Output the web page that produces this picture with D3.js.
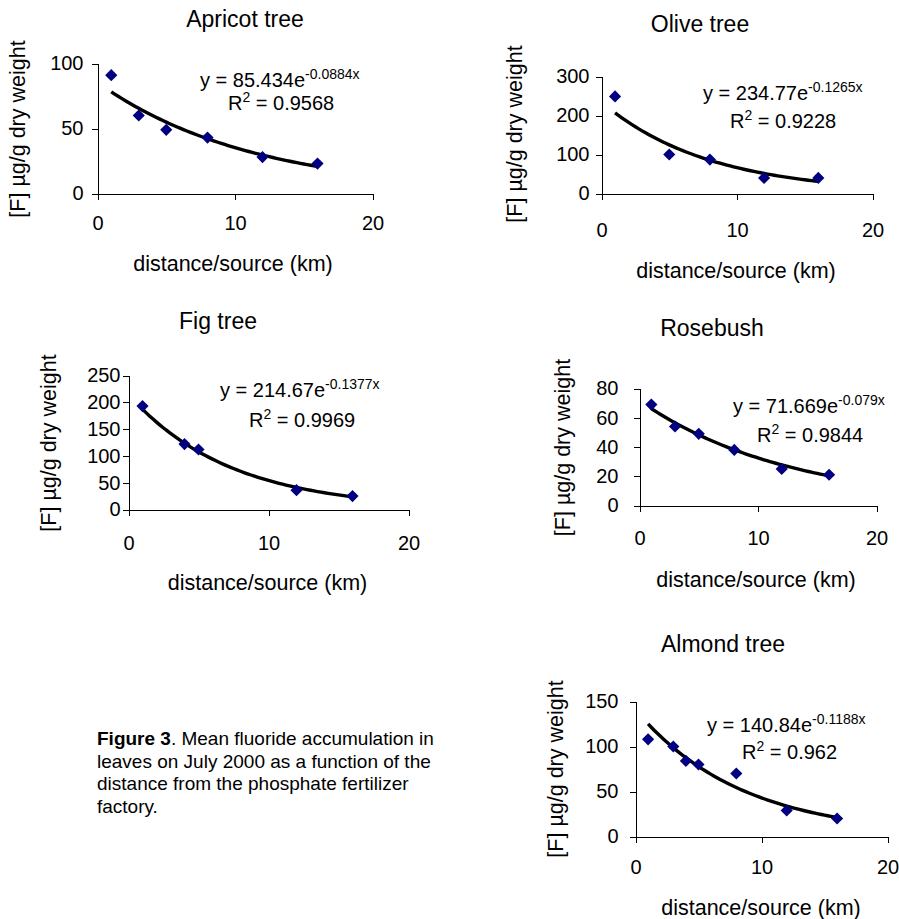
<!DOCTYPE html>
<html>
<head>
<meta charset="utf-8">
<script src="https://cdn.jsdelivr.net/npm/d3@7"></script>
<style>
  body { margin: 0; background: #fff; }
  svg text { font-family: "Liberation Sans", Arial, sans-serif; fill: #000; }
</style>
</head>
<body>
<div id="figure"></div>
<script>
// data
var panelNames = ["Apricot tree", "Olive tree", "Fig tree", "Rosebush", "Almond tree"];

var apricotX = [1, 3, 5, 8, 12, 16];
var apricotY = [91, 60, 49, 43, 28, 23];
var oliveX = [1, 5, 8, 12, 16];
var oliveY = [249, 100, 87, 40, 40];
var figX = [1, 4, 5, 12, 16];
var figY = [193, 122, 112, 36, 25];
var roseX = [1, 3, 5, 8, 12, 16];
var roseY = [69, 54, 49, 38, 25, 21];
var almondX = [1, 3, 4, 5, 8, 12, 16];
var almondY = [108, 100, 84, 80, 70, 29, 20];

// exponential trendlines as printed on each panel
var fitA = [85.434, 234.77, 214.67, 71.669, 140.84];
var fitB = [-0.0884, -0.1265, -0.1377, -0.079, -0.1188];
var fitR2 = ["0.9568", "0.9228", "0.9969", "0.9844", "0.962"];

var yMax = [100, 300, 250, 80, 150];
var yStep = [50, 100, 50, 20, 50];
var xTicks = [0, 10, 20];

var xTitle = "distance/source (km)";
var yTitle = "[F] \u00b5g/g dry weight";

var seriesX = [apricotX, oliveX, figX, roseX, almondX];
var seriesY = [apricotY, oliveY, figY, roseY, almondY];

// where each small chart sits on the page
var layout = [
  {left: 97.5, right: 372.5, top: 63.5, bottom: 193.5, title: [245, 27], tickPad: 8, xTickBase: 230, xT: [233, 271], yT: [24.5, 129], eq: [200, 87], r2: [228, 110]},
  {left: 601.5, right: 872.5, top: 76.5, bottom: 193.5, title: [700, 31.5], tickPad: 6, xTickBase: 237, xT: [736, 278], yT: [522, 134], eq: [703, 100], r2: [730, 128]},
  {left: 128.5, right: 408.5, top: 375.5, bottom: 509.5, title: [218, 329], tickPad: 2, xTickBase: 550, xT: [267.5, 590], yT: [56, 443], eq: [220, 397], r2: [249, 427]},
  {left: 639.5, right: 876.5, top: 388.5, bottom: 505.5, title: [712, 335.5], tickPad: 15, xTickBase: 545, xT: [756, 587], yT: [570, 447.5], eq: [733, 413], r2: [757, 442]},
  {left: 635.5, right: 887.5, top: 701.5, bottom: 836.5, title: [723, 652], tickPad: 11, xTickBase: 874, xT: [761, 915], yT: [563, 769], eq: [707, 732], r2: [742, 759]}
];

var svg = d3.select("#figure").append("svg").attr("width", 899).attr("height", 919);

for (var i = 0; i < panelNames.length; i++) {
  var L = layout[i];
  var x = d3.scaleLinear().domain([0, 20]).range([L.left, L.right]);
  var y = d3.scaleLinear().domain([0, yMax[i]]).range([L.bottom, L.top]);
  var g = svg.append("g").attr("class", "panel");

  g.append("text").attr("x", L.title[0]).attr("y", L.title[1])
    .attr("text-anchor", "middle").style("font-size", "23px").text(panelNames[i]);

  // y axis
  var ya = g.append("g").attr("transform", "translate(" + L.left + ",0)")
    .call(d3.axisLeft(y).tickValues(d3.range(0, yMax[i] + 1, yStep[i]))
      .tickSize(6).tickSizeOuter(0).tickPadding(L.tickPad));
  ya.selectAll("text").style("font-size", "20px").attr("font-family", null);

  // x axis
  var xa = g.append("g").attr("transform", "translate(0," + L.bottom + ")")
    .call(d3.axisBottom(x).tickValues(xTicks).tickSize(6).tickSizeOuter(0));
  xa.selectAll("text").style("font-size", "20px").attr("font-family", null)
    .attr("y", L.xTickBase - L.bottom).attr("dy", null);

  g.selectAll(".domain, .tick line").attr("stroke", "#000").attr("shape-rendering", "crispEdges");

  g.append("text").attr("x", L.xT[0]).attr("y", L.xT[1])
    .attr("text-anchor", "middle").style("font-size", "21.5px").text(xTitle);

  g.append("text").attr("transform", "translate(" + L.yT[0] + "," + L.yT[1] + ") rotate(-90)")
    .attr("text-anchor", "middle").style("font-size", "21.5px").text(yTitle);

  // trendline
  var a = fitA[i], b = fitB[i];
  var xs = seriesX[i];
  var curve = d3.range(xs[0], xs[xs.length - 1] + 0.001, 0.25).map(function(v){ return [v, a * Math.exp(b * v)]; });
  g.append("path").datum(curve)
    .attr("fill", "none").attr("stroke", "#000").attr("stroke-width", 3.4)
    .attr("d", d3.line().x(function(d){ return x(d[0]); }).y(function(d){ return y(d[1]); }));

  // markers
  var pts = xs.map(function(v, k){ return [v, seriesY[i][k]]; });
  g.selectAll("path.pt").data(pts).enter().append("path").attr("class", "pt")
    .attr("d", d3.symbol().type(d3.symbolSquare).size(74))
    .attr("transform", function(d){ return "translate(" + x(d[0]) + "," + y(d[1]) + ") rotate(45)"; })
    .attr("fill", "#000080");

  // equation
  var eq = g.append("text").attr("x", L.eq[0]).attr("y", L.eq[1]).style("font-size", "20px");
  eq.append("tspan").text("y = " + a + "e");
  eq.append("tspan").attr("dy", -8).style("font-size", "14px").text(b + "x");
  var r2 = g.append("text").attr("x", L.r2[0]).attr("y", L.r2[1]).style("font-size", "20px");
  r2.append("tspan").text("R");
  r2.append("tspan").attr("dy", -8).style("font-size", "14px").text("2");
  r2.append("tspan").attr("dy", 8).text(" = " + fitR2[i]);
}

// caption
var captionLines = [
  ["Figure 3", ". Mean fluoride accumulation in"],
  ["", "leaves on July 2000 as a function of the"],
  ["", "distance from the phosphate fertilizer"],
  ["", "factory."]
];
var cap = svg.append("text").attr("x", 97).attr("y", 745).style("font-size", "19px");
captionLines.forEach(function(line, k){
  var t = cap.append("tspan").attr("x", 97).attr("y", 745 + k * 22.5);
  if (line[0]) t.append("tspan").style("font-weight", "bold").text(line[0]);
  t.append("tspan").text(line[1]);
});
</script>
</body>
</html>
